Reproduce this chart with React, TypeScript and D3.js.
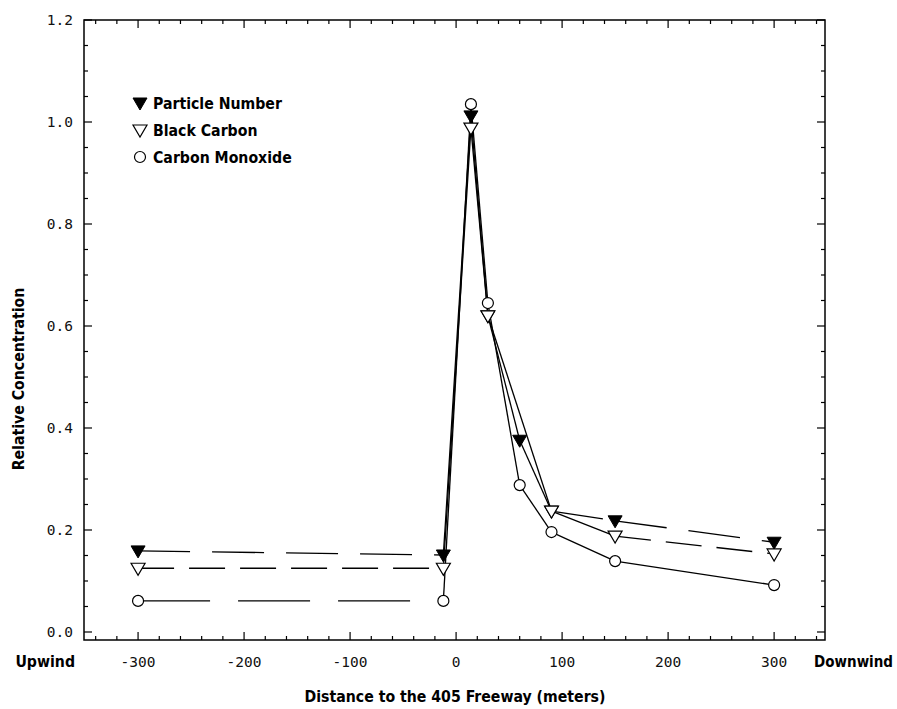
import React from "react";
import * as d3 from "d3";

// distance (m) and relative concentration
const pnX = [-300, -12, 14, 30, 60, 90, 150, 300];
const pnY = [0.159, 0.151, 1.012, 0.62, 0.376, 0.237, 0.218, 0.176];
const pnDashed = [0, 5, 6]; // segment indexes drawn dashed

const bcX = [-300, -12, 14, 30, 90, 150, 300];
const bcY = [0.125, 0.125, 0.988, 0.62, 0.237, 0.188, 0.153];
const bcDashed = [0, 5];

const coX = [-300, -12, 14, 30, 60, 90, 150, 300];
const coY = [0.061, 0.061, 1.035, 0.645, 0.288, 0.196, 0.139, 0.092];
const coDashed = [0];

const xTicks = [-300, -200, -100, 0, 100, 200, 300];
const yTicks = [0, 0.2, 0.4, 0.6, 0.8, 1.0, 1.2];
const legendLabels = ["Particle Number", "Black Carbon", "Carbon Monoxide"];

const W = 897;
const H = 709;
const left = 84, right = 825, top = 20, bottom = 640;

const x = d3.scaleLinear().domain([-351, 348]).range([left, right]);
const y = d3.scaleLinear().domain([-0.0157, 1.2]).range([bottom, top]);

const boldFont = "'DejaVu Sans Condensed', 'DejaVu Sans', sans-serif";
const tickFont = "'DejaVu Sans Mono', monospace";
const boldSize = 15.7;

const triDown = "M-7,-5L7,-5L0,7Z";
const line = d3.line<[number, number]>().x((d) => x(d[0])).y((d) => y(d[1]));

function segments(xs: number[], ys: number[], dashed: number[], dash: string, key: string) {
  const out: JSX.Element[] = [];
  for (let i = 0; i < xs.length - 1; i++) {
    const isDash = dashed.includes(i);
    out.push(
      <path
        key={key + i}
        d={line([[xs[i], ys[i]], [xs[i + 1], ys[i + 1]]]) || ""}
        fill="none"
        stroke="#000"
        strokeWidth={1.3}
        strokeDasharray={isDash ? dash : undefined}
      />
    );
  }
  return out;
}

export default function App() {
  const xMinor = d3.range(-340, 341, 20);
  const yMinor = d3.range(0, 1.2001, 0.05);

  return (
    <svg width={W} height={H} style={{ position: "absolute", left: 0, top: 0, background: "#fff" }}>
      {/* frame */}
      <rect x={left} y={top} width={right - left} height={bottom - top} fill="none" stroke="#000" strokeWidth={1.5} />

      {/* x ticks, inward on top and bottom */}
      {xMinor.map((v) => {
        const major = Math.abs(v % 100) < 1e-6;
        const len = major ? 8 : 4;
        return (
          <g key={"xt" + v}>
            <line x1={x(v)} x2={x(v)} y1={bottom} y2={bottom - len} stroke="#000" strokeWidth={1.2} />
            <line x1={x(v)} x2={x(v)} y1={top} y2={top + len} stroke="#000" strokeWidth={1.2} />
          </g>
        );
      })}
      {/* y ticks, inward on left and right */}
      {yMinor.map((v, i) => {
        const major = i % 4 === 0;
        const len = major ? 8 : 4;
        return (
          <g key={"yt" + i}>
            <line x1={left} x2={left + len} y1={y(v)} y2={y(v)} stroke="#000" strokeWidth={1.2} />
            <line x1={right} x2={right - len} y1={y(v)} y2={y(v)} stroke="#000" strokeWidth={1.2} />
          </g>
        );
      })}

      {xTicks.map((v) => (
        <text key={"xl" + v} x={x(v)} y={667} textAnchor="middle" fontFamily={tickFont} fontSize={14.5} fill="#111">
          {v}
        </text>
      ))}
      {yTicks.map((v) => (
        <text key={"yl" + v} x={73} y={y(v) + 5} textAnchor="end" fontFamily={tickFont} fontSize={14.5} fill="#111">
          {v.toFixed(1)}
        </text>
      ))}

      <text x={75} y={667} textAnchor="end" fontFamily={boldFont} fontWeight="bold" fontSize={boldSize}>Upwind</text>
      <text x={893} y={667} textAnchor="end" fontFamily={boldFont} fontWeight="bold" fontSize={15}>Downwind</text>
      <text x={455} y={702} textAnchor="middle" fontFamily={boldFont} fontWeight="bold" fontSize={boldSize}>
        Distance to the 405 Freeway (meters)
      </text>
      <text
        transform={`translate(24,${379}) rotate(-90)`}
        textAnchor="middle"
        fontFamily={boldFont}
        fontWeight="bold"
        fontSize={boldSize}
      >
        Relative Concentration
      </text>

      {/* lines */}
      {segments(pnX, pnY, pnDashed, "52 22", "pn")}
      {segments(bcX, bcY, bcDashed, "36 15", "bc")}
      {segments(coX, coY, coDashed, "72 28", "co")}

      {/* markers */}
      {pnX.map((v, i) => (
        <path key={"pm" + i} d={triDown} transform={`translate(${x(v)},${y(pnY[i])})`} fill="#000" stroke="#000" strokeWidth={1} />
      ))}
      {bcX.map((v, i) => (
        <path key={"bm" + i} d={triDown} transform={`translate(${x(v)},${y(bcY[i])})`} fill="#fff" stroke="#000" strokeWidth={1.2} />
      ))}
      {coX.map((v, i) => (
        <circle key={"cm" + i} cx={x(v)} cy={y(coY[i])} r={5.5} fill="#fff" stroke="#000" strokeWidth={1.2} />
      ))}

      {/* legend */}
      {legendLabels.map((lab, i) => {
        const ly = 103 + i * 27;
        return (
          <g key={lab}>
            {i === 0 && <path d={triDown} transform={`translate(140,${ly})`} fill="#000" stroke="#000" />}
            {i === 1 && <path d={triDown} transform={`translate(140,${ly})`} fill="#fff" stroke="#000" strokeWidth={1.2} />}
            {i === 2 && <circle cx={140} cy={ly} r={5.5} fill="#fff" stroke="#000" strokeWidth={1.2} />}
            <text x={153} y={ly + 5.5} fontFamily={boldFont} fontWeight="bold" fontSize={boldSize}>
              {lab}
            </text>
          </g>
        );
      })}
    </svg>
  );
}
